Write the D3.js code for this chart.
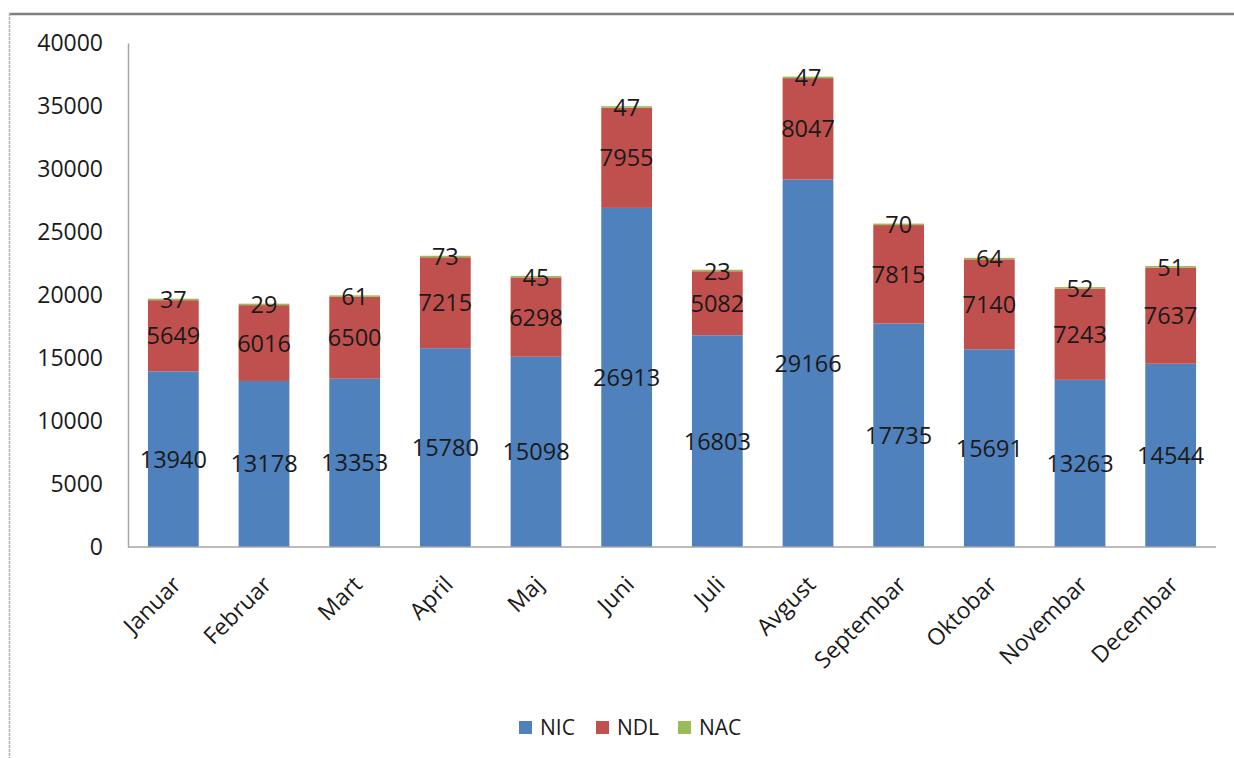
<!DOCTYPE html>
<html lang="en">
<head>
    <meta charset="UTF-8">
    <title>NIC / NDL / NAC po mjesecima</title>
    <script src="https://d3js.org/d3.v7.min.js"></script>
    <style>
        body { margin: 0; background: #fff; }
        svg { display: block; }
        text { font-family: "Open Sans", "DejaVu Sans", Arial, sans-serif; fill: #1a1a1a; }
        .axis path, .axis line { stroke: #a6a6a6; }
    </style>
</head>
<body>
    <svg width="1234" height="758"></svg>

    <script>
        const months = ["Januar", "Februar", "Mart", "April", "Maj", "Juni", "Juli", "Avgust", "Septembar", "Oktobar", "Novembar", "Decembar"];
        const nic = [13940, 13178, 13353, 15780, 15098, 26913, 16803, 29166, 17735, 15691, 13263, 14544];
        const ndl = [5649, 6016, 6500, 7215, 6298, 7955, 5082, 8047, 7815, 7140, 7243, 7637];
        const nac = [37, 29, 61, 73, 45, 47, 23, 47, 70, 64, 52, 51];
        const seriesNames = ["NIC", "NDL", "NAC"];
        const colors = ["#4f81bd", "#c0504d", "#9bbb59"];
        const yTicks = [0, 5000, 10000, 15000, 20000, 25000, 30000, 35000, 40000];

        const svg = d3.select("svg");

        // chart frame (top and left edge visible)
        svg.append("line").attr("x1", 9).attr("x2", 1234).attr("y1", 14).attr("y2", 14)
            .attr("stroke", "#7f7f7f").attr("stroke-width", 2.5);
        svg.append("line").attr("x1", 9.5).attr("x2", 9.5).attr("y1", 13).attr("y2", 758)
            .attr("stroke", "#b0b0b0").attr("stroke-width", 1.5).attr("stroke-dasharray", "3,1");

        const plotLeft = 128, plotRight = 1216, plotTop = 43, plotBottom = 547;

        const x = d3.scaleBand().domain(months).range([plotLeft, plotRight]).paddingInner(0.44).paddingOuter(0.22);
        const y = d3.scaleLinear().domain([0, 40000]).range([plotBottom, plotTop]);

        const rows = months.map((m, i) => ({ month: m, NIC: nic[i], NDL: ndl[i], NAC: nac[i] }));
        const stacked = d3.stack().keys(seriesNames)(rows);

        // y axis
        const yAxis = svg.append("g").attr("class", "axis")
            .attr("transform", `translate(${plotLeft},0)`)
            .call(d3.axisLeft(y).tickValues(yTicks).tickSize(0).tickPadding(25).tickFormat(d3.format("d")));
        yAxis.select(".domain").attr("stroke-width", 1.5);
        yAxis.selectAll("text").attr("font-size", 23);

        // bars
        const layers = svg.selectAll(".layer").data(stacked).enter().append("g")
            .attr("class", "layer")
            .attr("fill", (d, i) => colors[i]);

        layers.selectAll("rect").data(d => d).enter().append("rect")
            .attr("x", d => x(d.data.month))
            .attr("width", x.bandwidth())
            .attr("y", d => Math.min(y(d[1]), y(d[0]) - 1.5))
            .attr("height", d => Math.max(y(d[0]) - y(d[1]), 1.5));

        // x axis line
        svg.append("line").attr("x1", plotLeft).attr("x2", plotRight).attr("y1", plotBottom).attr("y2", plotBottom)
            .attr("stroke", "#a6a6a6").attr("stroke-width", 1.5);

        // value labels
        layers.selectAll(".val").data(d => d.map(v => ({ v, key: d.key }))).enter().append("text")
            .attr("class", "val")
            .attr("x", d => x(d.v.data.month) + x.bandwidth() / 2)
            .attr("y", d => y((d.v[0] + d.v[1]) / 2))
            .attr("dy", "0.36em")
            .attr("text-anchor", "middle")
            .attr("font-size", 23.5)
            .text(d => d.v.data[d.key]);

        // category labels
        svg.selectAll(".cat").data(months).enter().append("text")
            .attr("class", "cat")
            .attr("transform", d => `translate(${x(d) + x.bandwidth() / 2 + 9},586) rotate(-45)`)
            .attr("text-anchor", "end")
            .attr("font-size", 23)
            .text(d => d);

        // legend
        const legendX = [519, 596, 678];
        const legend = svg.selectAll(".legend").data(seriesNames).enter().append("g")
            .attr("class", "legend")
            .attr("transform", (d, i) => `translate(${legendX[i]},721)`);
        legend.append("rect").attr("width", 13).attr("height", 13).attr("fill", (d, i) => colors[i]);
        legend.append("text").attr("x", 21).attr("y", 13.5).attr("font-size", 21).text(d => d);
    </script>
</body>
</html>
